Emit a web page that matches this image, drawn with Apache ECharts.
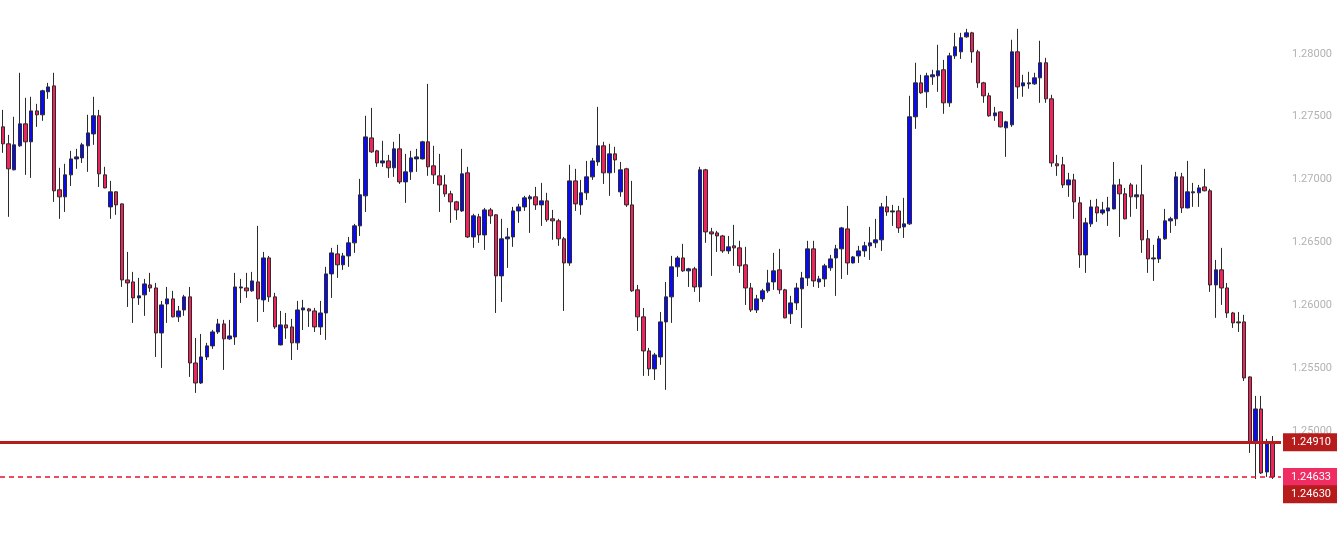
<!DOCTYPE html>
<html>
<head>
<meta charset="utf-8">
<script src="https://cdn.jsdelivr.net/npm/echarts@6/dist/echarts.min.js"></script>
<style>
  html, body { margin: 0; padding: 0; background: #fff; }
  #chart { width: 1337px; height: 533px; }
</style>
</head>
<body>
<div id="chart"></div>
<script>
// candle values, oldest first
const opens = [
  1.27419, 1.27284, 1.27077, 1.27268, 1.27443, 1.27300, 1.27546, 1.27515, 1.27698, 1.27745,
  1.26918, 1.26862, 1.27037, 1.27164, 1.27172, 1.27268, 1.27363, 1.27507, 1.27037, 1.26782,
  1.26902, 1.26806, 1.26201, 1.26185, 1.26058, 1.26082, 1.26161, 1.26137, 1.25779, 1.26010,
  1.26050, 1.25907, 1.25962, 1.26066, 1.25540, 1.25381, 1.25588, 1.25676, 1.25787, 1.25851,
  1.25732, 1.25747, 1.26137, 1.26137, 1.26114, 1.26185, 1.26042, 1.26376, 1.26066, 1.25684,
  1.25843, 1.25827, 1.25700, 1.25962, 1.25970, 1.25954, 1.25827, 1.25938, 1.26249, 1.26408,
  1.26321, 1.26392, 1.26496, 1.26631, 1.26870, 1.27331, 1.27228, 1.27132, 1.27148, 1.27093,
  1.27244, 1.26981, 1.27061, 1.27164, 1.27164, 1.27300, 1.27109, 1.27029, 1.26957, 1.26886,
  1.26822, 1.26750, 1.27053, 1.26543, 1.26703, 1.26559, 1.26758, 1.26719, 1.26233, 1.26528,
  1.26543, 1.26750, 1.26782, 1.26846, 1.26862, 1.26798, 1.26830, 1.26687, 1.26671, 1.26528,
  1.26336, 1.26989, 1.26798, 1.26894, 1.27021, 1.27140, 1.27268, 1.27053, 1.27204, 1.26902,
  1.27085, 1.26798, 1.26122, 1.25907, 1.25636, 1.25493, 1.25588, 1.25867, 1.26066, 1.26305,
  1.26376, 1.26273, 1.26289, 1.26145, 1.27077, 1.26583, 1.26575, 1.26551, 1.26432, 1.26472,
  1.26456, 1.26321, 1.26137, 1.25962, 1.26050, 1.26114, 1.26185, 1.26281, 1.26122, 1.25931,
  1.26018, 1.26130, 1.26217, 1.26448, 1.26185, 1.26209, 1.26297, 1.26376, 1.26448, 1.26607,
  1.26336, 1.26392, 1.26432, 1.26472, 1.26496, 1.26520, 1.26782, 1.26742, 1.26750, 1.26623,
  1.26647, 1.27499, 1.27769, 1.27698, 1.27817, 1.27825, 1.27873, 1.27610, 1.27984, 1.28016,
  1.28135, 1.28167, 1.28016, 1.27769, 1.27666, 1.27507, 1.27538, 1.27411, 1.27435, 1.28016,
  1.27745, 1.27761, 1.27761, 1.27809, 1.27929, 1.27642, 1.27125, 1.27117, 1.26957, 1.26997,
  1.26814, 1.26400, 1.26647, 1.26782, 1.26734, 1.26750, 1.26766, 1.26957, 1.26886, 1.26957,
  1.26862, 1.26878, 1.26528, 1.26368, 1.26368, 1.26528, 1.26671, 1.26687, 1.27021, 1.26774,
  1.26894, 1.26894, 1.26941, 1.26910, 1.26161, 1.26281, 1.26137, 1.25938, 1.25867, 1.25867,
  1.25429, 1.24912, 1.25174, 1.24673, 1.24904
];
const closes = [
  1.27284, 1.27085, 1.27276, 1.27443, 1.27300, 1.27546, 1.27515, 1.27706, 1.27737, 1.26910,
  1.26862, 1.27037, 1.27164, 1.27180, 1.27276, 1.27371, 1.27507, 1.27045, 1.26933, 1.26902,
  1.26798, 1.26201, 1.26177, 1.26058, 1.26074, 1.26169, 1.26137, 1.25779, 1.26002, 1.26050,
  1.25907, 1.25954, 1.26066, 1.25540, 1.25381, 1.25588, 1.25676, 1.25787, 1.25851, 1.25732,
  1.25755, 1.26145, 1.26145, 1.26114, 1.26193, 1.26050, 1.26376, 1.26066, 1.25827, 1.25843,
  1.25819, 1.25700, 1.25962, 1.25978, 1.25954, 1.25827, 1.25938, 1.26249, 1.26416, 1.26321,
  1.26392, 1.26496, 1.26631, 1.26878, 1.27339, 1.27220, 1.27132, 1.27148, 1.27093, 1.27244,
  1.26981, 1.27061, 1.27172, 1.27180, 1.27300, 1.27101, 1.27037, 1.26957, 1.26886, 1.26822,
  1.26758, 1.27045, 1.26543, 1.26711, 1.26559, 1.26758, 1.26711, 1.26233, 1.26528, 1.26543,
  1.26750, 1.26782, 1.26854, 1.26862, 1.26798, 1.26830, 1.26679, 1.26671, 1.26528, 1.26336,
  1.26989, 1.26806, 1.26894, 1.27021, 1.27148, 1.27268, 1.27053, 1.27204, 1.27156, 1.27077,
  1.26798, 1.26114, 1.25907, 1.25636, 1.25493, 1.25604, 1.25867, 1.26066, 1.26305, 1.26376,
  1.26273, 1.26289, 1.26145, 1.27077, 1.26583, 1.26567, 1.26551, 1.26432, 1.26464, 1.26456,
  1.26313, 1.26137, 1.25962, 1.26050, 1.26114, 1.26177, 1.26273, 1.26122, 1.25899, 1.26018,
  1.26137, 1.26217, 1.26448, 1.26193, 1.26209, 1.26313, 1.26368, 1.26448, 1.26615, 1.26336,
  1.26384, 1.26432, 1.26472, 1.26496, 1.26520, 1.26782, 1.26742, 1.26750, 1.26615, 1.26647,
  1.27499, 1.27769, 1.27690, 1.27825, 1.27833, 1.27865, 1.27610, 1.27984, 1.28056, 1.28128,
  1.28167, 1.28016, 1.27769, 1.27666, 1.27507, 1.27530, 1.27419, 1.27459, 1.28016, 1.27737,
  1.27769, 1.27769, 1.27809, 1.27929, 1.27642, 1.27132, 1.27109, 1.26957, 1.26997, 1.26822,
  1.26400, 1.26655, 1.26782, 1.26734, 1.26758, 1.26774, 1.26957, 1.26886, 1.26687, 1.26862,
  1.26878, 1.26520, 1.26368, 1.26376, 1.26528, 1.26671, 1.26687, 1.27021, 1.26774, 1.26902,
  1.26902, 1.26933, 1.26910, 1.26161, 1.26281, 1.26137, 1.25938, 1.25859, 1.25859, 1.25421,
  1.24912, 1.25174, 1.24665, 1.24904, 1.24633
];
const lows = [
  1.27212, 1.26703, 1.27073, 1.27260, 1.27037, 1.27013, 1.27419, 1.27467, 1.27642, 1.26822,
  1.26687, 1.26742, 1.26949, 1.27085, 1.27132, 1.27061, 1.27276, 1.26941, 1.26930, 1.26687,
  1.26719, 1.26145, 1.25986, 1.25859, 1.26002, 1.25915, 1.26106, 1.25588, 1.25501, 1.25859,
  1.25903, 1.25867, 1.25915, 1.25429, 1.25302, 1.25373, 1.25564, 1.25652, 1.25771, 1.25485,
  1.25724, 1.25684, 1.26018, 1.26058, 1.26106, 1.25867, 1.25946, 1.26026, 1.25811, 1.25680,
  1.25732, 1.25564, 1.25644, 1.25803, 1.25827, 1.25787, 1.25763, 1.25724, 1.26058, 1.26217,
  1.26281, 1.26305, 1.26416, 1.26551, 1.26742, 1.27212, 1.27101, 1.27101, 1.27013, 1.27021,
  1.26965, 1.26814, 1.26997, 1.27061, 1.27160, 1.27029, 1.26965, 1.26742, 1.26862, 1.26655,
  1.26679, 1.26742, 1.26535, 1.26456, 1.26496, 1.26440, 1.26647, 1.25938, 1.26026, 1.26297,
  1.26464, 1.26655, 1.26750, 1.26575, 1.26758, 1.26631, 1.26663, 1.26520, 1.26472, 1.25954,
  1.26313, 1.26750, 1.26719, 1.26838, 1.26997, 1.27109, 1.26965, 1.26870, 1.27053, 1.26862,
  1.26782, 1.26106, 1.25795, 1.25437, 1.25437, 1.25405, 1.25525, 1.25326, 1.25859, 1.26225,
  1.26265, 1.26145, 1.26106, 1.26026, 1.26496, 1.26233, 1.26424, 1.26416, 1.26408, 1.26313,
  1.26257, 1.26002, 1.25946, 1.25938, 1.26026, 1.26098, 1.26122, 1.26090, 1.25895, 1.25851,
  1.25962, 1.25819, 1.26153, 1.26145, 1.26137, 1.26145, 1.26273, 1.26074, 1.26209, 1.26241,
  1.26332, 1.26336, 1.26384, 1.26360, 1.26456, 1.26432, 1.26711, 1.26631, 1.26575, 1.26535,
  1.26639, 1.27403, 1.27682, 1.27570, 1.27753, 1.27698, 1.27523, 1.27578, 1.27960, 1.27960,
  1.28128, 1.27929, 1.27729, 1.27610, 1.27499, 1.27467, 1.27415, 1.27180, 1.27419, 1.27642,
  1.27658, 1.27722, 1.27753, 1.27610, 1.27610, 1.27101, 1.27029, 1.26933, 1.26862, 1.26687,
  1.26297, 1.26257, 1.26623, 1.26663, 1.26719, 1.26631, 1.26762, 1.26543, 1.26683, 1.26703,
  1.26766, 1.26416, 1.26257, 1.26193, 1.26336, 1.26520, 1.26575, 1.26631, 1.26734, 1.26770,
  1.26782, 1.26782, 1.26906, 1.26106, 1.25899, 1.26002, 1.25899, 1.25819, 1.25787, 1.25397,
  1.24824, 1.24617, 1.24657, 1.24633, 1.24617
];
const highs = [
  1.27554, 1.27355, 1.27499, 1.27849, 1.27650, 1.27658, 1.27602, 1.27714, 1.27769, 1.27849,
  1.27093, 1.27125, 1.27228, 1.27244, 1.27292, 1.27515, 1.27658, 1.27554, 1.27101, 1.26989,
  1.26905, 1.26810, 1.26424, 1.26265, 1.26217, 1.26209, 1.26257, 1.26177, 1.26034, 1.26145,
  1.26114, 1.25994, 1.26082, 1.26145, 1.25739, 1.25771, 1.25700, 1.25803, 1.25891, 1.25883,
  1.25883, 1.26257, 1.26209, 1.26257, 1.26265, 1.26631, 1.26424, 1.26392, 1.26098, 1.25954,
  1.25938, 1.25891, 1.26034, 1.26042, 1.25978, 1.25978, 1.26034, 1.26305, 1.26456, 1.26480,
  1.26416, 1.26543, 1.26647, 1.27005, 1.27507, 1.27570, 1.27236, 1.27308, 1.27196, 1.27300,
  1.27363, 1.27204, 1.27228, 1.27244, 1.27308, 1.27761, 1.27268, 1.27204, 1.27037, 1.26910,
  1.26830, 1.27244, 1.27101, 1.26727, 1.26727, 1.26774, 1.26774, 1.26723, 1.26687, 1.26615,
  1.26782, 1.26806, 1.26870, 1.26878, 1.26941, 1.26973, 1.26894, 1.26758, 1.26687, 1.26543,
  1.27117, 1.27085, 1.26997, 1.27148, 1.27172, 1.27578, 1.27300, 1.27284, 1.27260, 1.27140,
  1.27093, 1.26989, 1.26161, 1.25978, 1.25660, 1.25620, 1.25946, 1.26185, 1.26392, 1.26392,
  1.26488, 1.26297, 1.26305, 1.27101, 1.27085, 1.26615, 1.26591, 1.26559, 1.26551, 1.26639,
  1.26512, 1.26464, 1.26177, 1.26082, 1.26130, 1.26281, 1.26416, 1.26448, 1.26130, 1.26074,
  1.26177, 1.26265, 1.26512, 1.26512, 1.26233, 1.26329, 1.26400, 1.26480, 1.26623, 1.26790,
  1.26392, 1.26472, 1.26504, 1.26623, 1.26687, 1.26814, 1.26870, 1.26798, 1.26790, 1.26854,
  1.27666, 1.27929, 1.27833, 1.27849, 1.27873, 1.28072, 1.27952, 1.28008, 1.28167, 1.28167,
  1.28199, 1.28175, 1.28032, 1.27777, 1.27690, 1.27578, 1.27542, 1.27467, 1.28112, 1.28199,
  1.27833, 1.27857, 1.27849, 1.28104, 1.27968, 1.27674, 1.27196, 1.27180, 1.27053, 1.27045,
  1.26862, 1.26695, 1.26838, 1.26846, 1.26822, 1.26862, 1.27140, 1.27005, 1.26933, 1.26973,
  1.26960, 1.27117, 1.26599, 1.26480, 1.26551, 1.26766, 1.26703, 1.27061, 1.27053, 1.27148,
  1.26973, 1.26957, 1.27085, 1.26926, 1.26360, 1.26456, 1.26177, 1.25946, 1.25946, 1.25923,
  1.25433, 1.25278, 1.25278, 1.24936, 1.24959
];

// horizontal price levels drawn on the chart
const supportLevel = 1.24910;
const lastPrice = 1.24633;
const otherPrice = 1.24630;

// one empty slot on the right, like the platform's right margin
const categories = opens.map((_, i) => String(i + 1)).concat(['']);
const candles = opens.map((o, i) => [o, closes[i], lows[i], highs[i]]);

const chart = echarts.init(document.getElementById('chart'));

const labelFont = 'Roboto, "Liberation Sans", sans-serif';

const priceTag = (text, bg) => ({
  position: 'end',
  distance: 2,
  formatter: text,
  color: '#ffffff',
  fontSize: 11,
  fontFamily: labelFont,
  backgroundColor: bg,
  padding: [4, 7, 3, 8]
});

chart.setOption({
  animation: false,
  backgroundColor: '#ffffff',
  grid: {
    left: 0,
    right: 56,
    top: -9,
    bottom: -23.5,
    containLabel: false,
    outerBoundsMode: 'none'
  },
  xAxis: {
    type: 'category',
    data: categories,
    boundaryGap: true,
    axisLine: { show: false },
    axisTick: { show: false },
    axisLabel: { show: false },
    splitLine: { show: false }
  },
  yAxis: {
    type: 'value',
    position: 'right',
    scale: true,
    min: 1.24,
    max: 1.285,
    interval: 0.005,
    axisLine: { show: false },
    axisTick: { show: false },
    splitLine: { show: false },
    axisLabel: {
      margin: 11,
      color: '#b2b2b2',
      fontSize: 11,
      fontFamily: labelFont,
      formatter: v => v.toFixed(5)
    }
  },
  series: [
    {
      type: 'candlestick',
      data: candles,
      barWidth: 4,
      itemStyle: {
        color: '#0a0af5',
        color0: '#f0245c',
        borderColor: '#2b2b2b',
        borderColor0: '#2b2b2b',
        borderWidth: 1
      },
      markLine: {
        silent: true,
        symbol: ['none', 'none'],
        precision: 5,
        animation: false,
        lineStyle: { color: '#b71c1c', width: 3, type: 'solid' },
        label: priceTag(supportLevel.toFixed(5), '#b71c1c'),
        data: [{ yAxis: supportLevel }]
      }
    },
    {
      // carrier for the dashed last-price line
      type: 'line',
      data: [],
      markLine: {
        silent: true,
        symbol: ['none', 'none'],
        precision: 5,
        animation: false,
        lineStyle: { color: '#e8112d', width: 1.6, type: [5, 4], opacity: 1 },
        label: priceTag(lastPrice.toFixed(5), '#ef2d62'),
        data: [{ yAxis: lastPrice }]
      }
    }
  ]
});

// the second price tag sits just under the last-price tag
const tagY = chart.convertToPixel({ yAxisIndex: 0 }, otherPrice) + 17;
chart.setOption({
  graphic: [{
    type: 'text',
    x: 1283,
    y: tagY,
    z: 100,
    style: {
      text: otherPrice.toFixed(5),
      fill: '#ffffff',
      font: '11px ' + labelFont,
      backgroundColor: '#b71c1c',
      padding: [4, 7, 3, 8],
      verticalAlign: 'middle'
    }
  }]
});
</script>
</body>
</html>
